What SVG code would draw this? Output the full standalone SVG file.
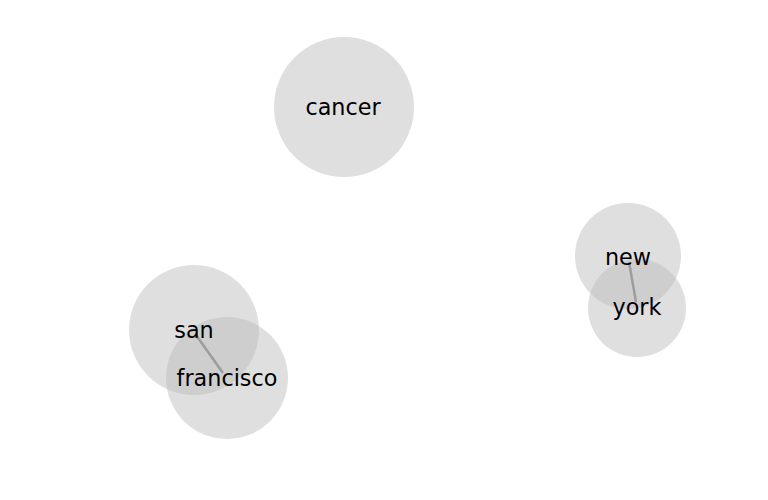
<svg xmlns="http://www.w3.org/2000/svg" width="768" height="500" viewBox="0 0 768 500">
<style>
.node circle{fill:#bababa;fill-opacity:0.47;stroke:none}
.label{font-family:"DejaVu Sans",sans-serif;font-size:22.3px;fill:#000;text-anchor:middle}
.edges line{stroke:#888;stroke-width:2.5;stroke-opacity:0.7}
</style>
<rect width="768" height="500" fill="#fff"/>
<g id="node-cancer" class="node"><circle cx="344" cy="107" r="70"/></g>
<g id="node-san" class="node"><circle cx="194" cy="330" r="65"/></g>
<g id="node-francisco" class="node"><circle cx="227" cy="378" r="61"/></g>
<g id="node-new" class="node"><circle cx="628" cy="256" r="53"/></g>
<g id="node-york" class="node"><circle cx="637" cy="308" r="49"/></g>
<g id="edges" class="edges">
<line x1="196" y1="335" x2="223" y2="373"/>
<line x1="629" y1="262" x2="636" y2="302"/>
</g>
<g id="labels">
<text id="label-cancer" class="label" x="343" y="115">cancer</text>
<text id="label-san" class="label" x="194" y="338">san</text>
<text id="label-francisco" class="label" x="227" y="386">francisco</text>
<text id="label-new" class="label" x="628" y="265">new</text>
<text id="label-york" class="label" x="637" y="315">york</text>
</g>
</svg>
